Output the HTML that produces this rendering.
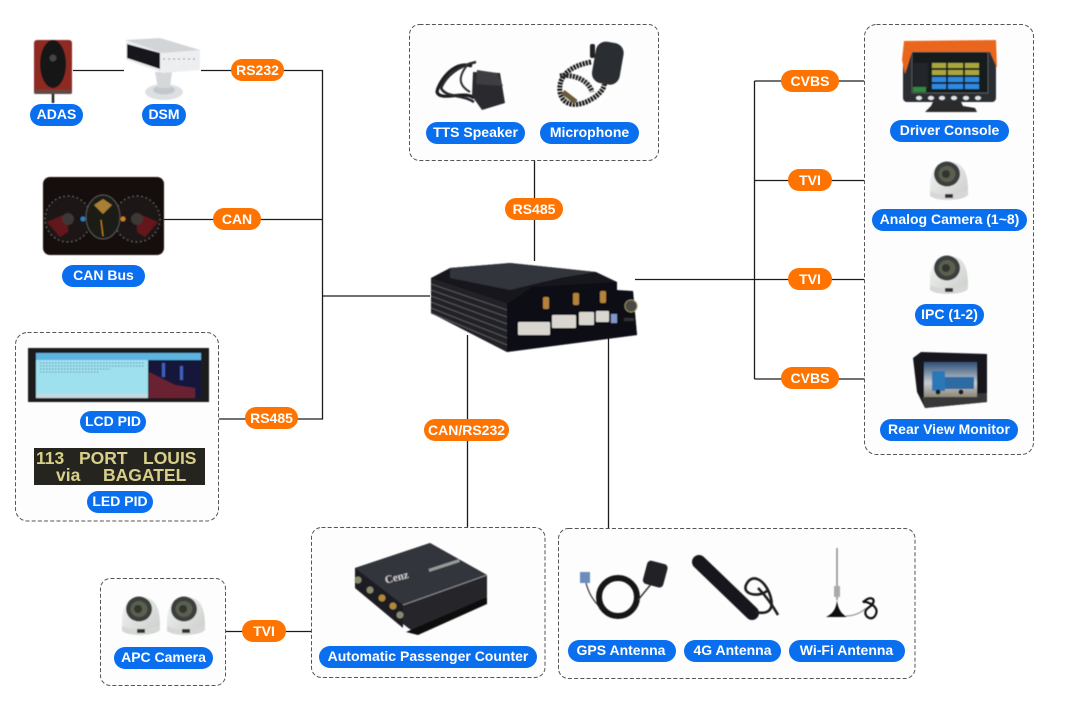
<!DOCTYPE html>
<html><head><meta charset="utf-8">
<style>
html,body{margin:0;padding:0;background:#fff}
svg{display:block}
.p text{font:bold 14px "Liberation Sans",sans-serif;fill:#fff;text-anchor:middle}
.l{stroke:#1c1c1c;stroke-width:1.3;fill:none}
.b{fill:#fdfdfd;stroke:#555;stroke-width:1;stroke-dasharray:4 2.2}
.o{fill:#ff7300}.u{fill:#0a6fef}
.led{font:bold 17.5px "Liberation Sans",sans-serif;fill:#d8d088}
</style></head><body>
<svg width="1080" height="725" viewBox="0 0 1080 725" xmlns="http://www.w3.org/2000/svg">
<defs>
<filter id="s" filterUnits="userSpaceOnUse" x="0" y="0" width="1080" height="725"><feGaussianBlur stdDeviation="0.5"/></filter>
<linearGradient id="dome" x1="0" y1="0" x2="1" y2="1"><stop offset="0" stop-color="#f4f5f4"/><stop offset="1" stop-color="#c9ccc9"/></linearGradient>
<linearGradient id="sky" x1="0" y1="0" x2="0" y2="1"><stop offset="0" stop-color="#2f4f76"/><stop offset="0.6" stop-color="#c4ccd2"/><stop offset="1" stop-color="#8d8676"/></linearGradient>
<g id="cam">
<path d="M-19,6 C-19,-4 -17,-12 -10,-17 C-4,-21 8,-20 13,-14 C18,-8 19,0 19,12 C19,16 14,18 0,19 C-12,19 -19,17 -19,13 Z" fill="url(#dome)"/>
<path d="M-19,10 C-10,15 10,15 19,8 L19,14 C12,19 -12,20 -19,15 Z" fill="#d6d8d6"/>
<ellipse cx="-2" cy="-7" rx="13" ry="12.5" fill="#3a413e"/>
<ellipse cx="-2" cy="-7" rx="8.5" ry="8" fill="#5a5e50"/>
<ellipse cx="-3" cy="-7" rx="4" ry="4" fill="#33352f"/>
<rect x="-4" y="13" width="8" height="4" fill="#333"/>
</g>
</defs>

<!-- dashed containers -->
<rect class="b" x="409.5" y="24.5" width="249" height="136" rx="10"/>
<rect class="b" x="864.5" y="24.5" width="169" height="430" rx="12"/>
<rect class="b" x="15.5" y="332.5" width="203" height="188.5" rx="12"/>
<rect class="b" x="100.5" y="578.5" width="125" height="107" rx="10"/>
<rect class="b" x="311.5" y="527.5" width="233.5" height="150" rx="10"/>
<rect class="b" x="558.5" y="528.5" width="356.5" height="150" rx="10"/>

<!-- connectors -->
<path class="l" d="M73,70.5H124M201,70.5H322.5V419H219M164,219.5H322.5M322.5,296H430"/>
<path class="l" d="M534.5,160.5V261"/>
<path class="l" d="M635,279.5H864M754.5,81V379M754.5,81H864M754.5,180.5H864M754.5,379H864"/>
<path class="l" d="M467.5,335V527M608.5,335V528M226,631.5H311"/>

<!-- ADAS -->
<g filter="url(#s)">
<path d="M53,90V103" stroke="#222" stroke-width="2.5"/>
<rect x="34" y="40" width="38" height="54" rx="3" fill="#8e2a24"/>
<rect x="34" y="90" width="38" height="4" rx="1.5" fill="#5f4a45"/>
<ellipse cx="53" cy="64" rx="13" ry="24" fill="#131313"/>
<circle cx="53" cy="58" r="3.5" fill="#444"/>
</g>

<!-- DSM -->
<g filter="url(#s)">
<ellipse cx="164" cy="92" rx="19" ry="8" fill="#dde0e3"/>
<ellipse cx="164" cy="90" rx="11" ry="4.5" fill="#c3c7cb"/>
<path d="M155,72 L172,72 L170,88 L158,88Z" fill="#d5d8db"/>
<path d="M126,40 L160,38 L200,50 L200,70 L163,73 L126,60Z" fill="#eceef0"/>
<path d="M126,40 L160,38 L200,50 L162,53Z" fill="#d2d5d8"/>
<path d="M127,44 L160,53 L160,69 L127,58Z" fill="#14151a"/>
<path d="M163,59 H198" stroke="#8a8a8a" stroke-width="1" stroke-dasharray="2 3"/>
</g>

<!-- CAN dash -->
<g filter="url(#s)">
<rect x="43" y="177" width="121" height="78" rx="7" fill="#130d0d"/>
<circle cx="68" cy="219" r="23" fill="#1a1313" stroke="#6a6a68" stroke-width="1" stroke-dasharray="1.5 3"/>
<circle cx="137" cy="219" r="23" fill="#1a1313" stroke="#6a6a68" stroke-width="1" stroke-dasharray="1.5 3"/>
<path d="M47,222 L68,213 L68,232 L60,237Z" fill="#64161a"/>
<path d="M158,222 L137,213 L137,232 L145,237Z" fill="#64161a"/>
<ellipse cx="103" cy="217" rx="17" ry="22" fill="#1f1a18" stroke="#555" stroke-width="1"/>
<circle cx="68" cy="219" r="6" fill="#3d3735"/>
<circle cx="137" cy="219" r="6" fill="#3d3735"/>
<path d="M94,205 L103,199 L112,205 L103,214Z" fill="#a87f35"/>
<path d="M101,220 L103,236" stroke="#d68a20" stroke-width="1"/>
<circle cx="83" cy="219" r="2.5" fill="#2a7fc0"/>
<circle cx="123" cy="219" r="2.5" fill="#d08020"/>
</g>

<!-- TTS speaker -->
<g filter="url(#s)">
<path d="M472,66 C452,60 438,84 437,92 C440,102 465,90 474,98" fill="none" stroke="#1e1e22" stroke-width="3.2"/>
<path d="M476,62 C458,66 446,76 441,88 C446,98 462,94 474,102" fill="none" stroke="#2a2a2e" stroke-width="2.6"/>
<path d="M468,64 C460,74 456,84 470,92" fill="none" stroke="#333" stroke-width="2"/>
<path d="M473,72 L500,73 L505,103 L482,110 L472,96Z" fill="#2b2b2f"/>
<path d="M477,70 L497,73 L503,86 L476,84Z" fill="#3e3e42"/>
</g>

<!-- Microphone -->
<g filter="url(#s)">
<path d="M591,62 C570,66 558,76 560,92 C563,108 580,106 590,100 C598,96 606,88 604,82" fill="none" stroke="#191919" stroke-width="5" stroke-dasharray="2.2 1"/>
<path d="M560,76 C570,74 588,78 592,92" fill="none" stroke="#222" stroke-width="5" stroke-dasharray="2.2 1"/>
<path d="M563,92 L576,102" stroke="#6a5a3a" stroke-width="5"/>
<rect x="594" y="42" width="28" height="42" rx="10" fill="#2c2e32" transform="rotate(10 607 62)"/>
<rect x="590" y="44" width="5" height="14" rx="2" fill="#222"/>
</g>

<!-- Main device -->
<g filter="url(#s)">
<path d="M450,268 L510,263 L596,272 L617,282 L617,290 L633,291 L637,335 L507,352 L431,313 L431,278Z" fill="#17181b"/>
<path d="M450,268 L510,263 L596,272 L560,278 L510,290 L450,278Z" fill="#33353a"/>
<path d="M431,278 L507,303 L507,352 L431,313Z" fill="#202125"/>
<path d="M431,284L507,310M431,290L507,317M431,296L507,324M431,302L507,331M431,308L507,338M431,313L507,345" stroke="#55565b" stroke-width="1"/>
<path d="M507,304 L532,287 L617,282 L617,291 L633,291 L637,335 L507,352Z" fill="#0f1013"/>
<g fill="#d9d6d0">
<rect x="518" y="322" width="32" height="13" rx="1"/>
<rect x="552" y="315" width="24" height="13" rx="1"/>
<rect x="579" y="312" width="15" height="13" rx="1"/>
<rect x="596" y="311" width="13" height="11" rx="1"/>
</g>
<rect x="611" y="314" width="6" height="9" fill="#7f97c6"/>
<g fill="#b5823a">
<rect x="543" y="297" width="6" height="12" rx="1.5"/>
<rect x="573" y="293" width="6" height="12" rx="1.5"/>
<rect x="600" y="291" width="6" height="12" rx="1.5"/>
</g>
<circle cx="631" cy="306" r="6" fill="#4a4a44" stroke="#9a8a60" stroke-width="1"/>
<rect x="624" y="318" width="10" height="3" fill="#333"/>
</g>

<!-- Driver console -->
<g filter="url(#s)">
<path d="M925,112 H977 L975,108 L963,106 L961,102 H933 L931,106 Z" fill="#2a2a2c"/>
<rect x="903" y="48" width="93" height="54" rx="4" fill="#2b2d30"/>
<path d="M904,41 L996,40 L997,68 L990,52 L912,52 L905,74 L902,60Z" fill="#ea661c"/>
<rect x="912" y="52" width="76" height="41" fill="#161b1e" stroke="#777" stroke-width="0.6"/>
<g fill="#a8a63c">
<rect x="932" y="63" width="14" height="5"/><rect x="948" y="63" width="15" height="5"/><rect x="965" y="63" width="14" height="5"/>
<rect x="932" y="70" width="14" height="5"/><rect x="948" y="70" width="15" height="5"/><rect x="965" y="70" width="14" height="5"/>
</g>
<g fill="#2f8ae0">
<rect x="932" y="77" width="14" height="5"/><rect x="948" y="77" width="15" height="5"/><rect x="965" y="77" width="14" height="5"/>
<rect x="932" y="84" width="14" height="5"/><rect x="948" y="84" width="15" height="5"/><rect x="965" y="84" width="14" height="5"/>
</g>
<rect x="914" y="63" width="14" height="25" fill="#20282c"/>
<rect x="913" y="87" width="13" height="5" fill="#2e8a3c"/>
<g fill="#e6e6e6">
<ellipse cx="919" cy="98" rx="3" ry="2"/><ellipse cx="931" cy="98" rx="3" ry="2"/><ellipse cx="942" cy="98" rx="3" ry="2"/><ellipse cx="954" cy="98" rx="3" ry="2"/><ellipse cx="966" cy="98" rx="3" ry="2"/><ellipse cx="978" cy="98" rx="3" ry="2"/>
</g>
</g>

<!-- Cameras -->
<g filter="url(#s)">
<use href="#cam" x="949" y="181"/>
<use href="#cam" x="949" y="275"/>
<use href="#cam" x="141" y="616"/>
<use href="#cam" x="186" y="616"/>
</g>

<!-- Rear monitor -->
<g filter="url(#s)">
<path d="M913,358 L921,352 L987,354 L987,402 L925,408 L917,392Z" fill="#17181b"/>
<path d="M922,397 L987,393 L987,402 L925,408Z" fill="#37383b"/>
<rect x="924" y="362" width="53" height="35" fill="url(#sky)"/>
<path d="M932,371 H945 V391 H932Z" fill="#2c78b8"/>
<path d="M945,377 H974 V389 H945Z" fill="#2f6ba4"/>
<circle cx="938" cy="392" r="2.5" fill="#1a1a1a"/><circle cx="961" cy="392" r="2.5" fill="#1a1a1a"/>
</g>

<!-- LCD PID -->
<g filter="url(#s)">
<rect x="28" y="348" width="181" height="54" fill="#1a1a1c"/>
<rect x="36" y="353" width="112" height="45" fill="#9ee0ee"/>
<rect x="36" y="353" width="165" height="7" fill="#5db4e0"/>
<rect x="149" y="360" width="52" height="38" fill="#16183a"/>
<path d="M149,372 L175,385 L195,388 L195,398 H149Z" fill="#6a2030"/>
<rect x="162" y="363" width="3" height="14" fill="#3d5fc0"/><rect x="180" y="366" width="3" height="14" fill="#3d5fc0"/>
<g stroke="#5f8aa0" stroke-width="1" stroke-dasharray="1.5 1.5"><path d="M40,363H144M40,366H144M40,369H110M40,372H100"/></g>
<rect x="36" y="394" width="112" height="4" fill="#c6d8de"/>
</g>

<!-- LED PID -->
<rect x="34" y="448" width="171" height="37" fill="#25241f"/>
<text class="led" x="36" y="464">113</text>
<text class="led" x="79" y="464">PORT</text>
<text class="led" x="143" y="464">LOUIS</text>
<text class="led" x="56" y="481">via</text>
<text class="led" x="103" y="481">BAGATEL</text>

<!-- APC device -->
<g filter="url(#s)">
<path d="M355,568 L430,543 L487,575 L487,597 L415,633 L355,588Z" fill="#26272b"/>
<path d="M355,568 L430,543 L487,575 L403,605Z" fill="#33353a"/>
<path d="M355,568 L403,605 L403,628 L355,588Z" fill="#1d1e21"/>
<path d="M403,605 L487,575" stroke="#8a8a90" stroke-width="1"/>
<path d="M406,632 L487,597 L487,604 L418,635Z" fill="#111"/>
<circle cx="358" cy="580" r="3.5" fill="#8a8a70"/><circle cx="370" cy="590" r="3.5" fill="#8a8a70"/>
<circle cx="382" cy="598" r="3.5" fill="#b08a3a"/><circle cx="393" cy="606" r="3.5" fill="#b08a3a"/><circle cx="400" cy="615" r="3.5" fill="#8a8a70"/>
<rect x="428" y="564" width="32" height="3" fill="#999" transform="rotate(-18 444 565)"/>
<text x="385" y="580" font-family="Liberation Serif,serif" font-size="11" font-weight="bold" fill="#ccc" transform="rotate(-14 400 578)">Cenz</text>
</g>

<!-- GPS -->
<g filter="url(#s)">
<rect x="580" y="572" width="10" height="11" fill="#6a8dbd"/>
<path d="M586,583 C590,598 598,606 604,610" fill="none" stroke="#333" stroke-width="1.2"/>
<circle cx="618" cy="597" r="19" fill="none" stroke="#141416" stroke-width="6"/>
<path d="M638,600 L652,583" stroke="#333" stroke-width="1.4"/>
<rect x="645" y="562" width="21" height="24" rx="4" fill="#232427" transform="rotate(15 655 573)"/>
</g>

<!-- 4G -->
<g filter="url(#s)">
<path d="M699,562 L752,613" stroke="#17181a" stroke-width="14" stroke-linecap="round"/>
<path d="M755,612 C768,615 775,610 770,595 C765,580 752,572 746,585 C742,595 760,598 768,590" fill="none" stroke="#1c1c1c" stroke-width="2.6"/>
<path d="M758,588 C770,600 775,610 778,615" fill="none" stroke="#1c1c1c" stroke-width="2.6"/>
</g>

<!-- WiFi -->
<g filter="url(#s)">
<path d="M837,548 V600" stroke="#8a8a8a" stroke-width="1.5"/>
<rect x="834" y="586" width="6" height="11" fill="#aaa"/>
<path d="M837,600 C838,610 842,614 847,617 H826 C832,614 836,610 837,600Z" fill="#111"/>
<path d="M846,616 C855,616 862,612 866,608" fill="none" stroke="#888" stroke-width="1"/>
<path d="M864,602 C870,594 880,600 868,608 C860,614 872,624 876,614 C880,604 860,600 864,602Z" fill="none" stroke="#111" stroke-width="2.2"/>
</g>

<!-- orange pills -->
<g class="p">
<rect class="o" x="231" y="59" width="53" height="22" rx="11"/><text x="257.5" y="75">RS232</text>
<rect class="o" x="213" y="208" width="48" height="22" rx="11"/><text x="237" y="224">CAN</text>
<rect class="o" x="245" y="407" width="53" height="22" rx="11"/><text x="271.5" y="423">RS485</text>
<rect class="o" x="505" y="198" width="58" height="22" rx="11"/><text x="534" y="214">RS485</text>
<rect class="o" x="781" y="70" width="58" height="22" rx="11"/><text x="810" y="86">CVBS</text>
<rect class="o" x="788" y="169" width="44" height="22" rx="11"/><text x="810" y="185">TVI</text>
<rect class="o" x="788" y="268" width="44" height="22" rx="11"/><text x="810" y="284">TVI</text>
<rect class="o" x="781" y="367" width="58" height="22" rx="11"/><text x="810" y="383">CVBS</text>
<rect class="o" x="424" y="419" width="85" height="22" rx="11"/><text x="466.5" y="435">CAN/RS232</text>
<rect class="o" x="242" y="620" width="44" height="22" rx="11"/><text x="264" y="636">TVI</text>

<!-- blue pills -->
<rect class="u" x="30" y="104" width="53" height="22" rx="11"/><text x="56.5" y="119">ADAS</text>
<rect class="u" x="142" y="104" width="44" height="22" rx="11"/><text x="164" y="119">DSM</text>
<rect class="u" x="62" y="265" width="83" height="22" rx="11"/><text x="103.5" y="280">CAN Bus</text>
<rect class="u" x="426" y="122" width="99" height="22" rx="11"/><text x="475.5" y="137">TTS Speaker</text>
<rect class="u" x="540" y="122" width="99" height="22" rx="11"/><text x="589.5" y="137">Microphone</text>
<rect class="u" x="890" y="120" width="119" height="22" rx="11"/><text x="949.5" y="135">Driver Console</text>
<rect class="u" x="872" y="209" width="155" height="22" rx="11"/><text x="949.5" y="224">Analog Camera (1~8)</text>
<rect class="u" x="915" y="304" width="69" height="22" rx="11"/><text x="949.5" y="319">IPC (1-2)</text>
<rect class="u" x="880" y="419" width="138" height="22" rx="11"/><text x="949" y="434">Rear View Monitor</text>
<rect class="u" x="80" y="411" width="66" height="22" rx="11"/><text x="113" y="426">LCD PID</text>
<rect class="u" x="87" y="491" width="66" height="22" rx="11"/><text x="120" y="506">LED PID</text>
<rect class="u" x="114" y="647" width="99" height="22" rx="11"/><text x="163.5" y="662">APC Camera</text>
<rect class="u" x="319" y="646" width="218" height="22" rx="11"/><text x="428" y="661">Automatic Passenger Counter</text>
<rect class="u" x="568" y="640" width="108" height="22" rx="11"/><text x="621" y="655">GPS Antenna</text>
<rect class="u" x="684" y="640" width="97" height="22" rx="11"/><text x="732.5" y="655">4G Antenna</text>
<rect class="u" x="789" y="640" width="116" height="22" rx="11"/><text x="846.5" y="655">Wi-Fi Antenna</text>
</g>
</svg>
</body></html>
